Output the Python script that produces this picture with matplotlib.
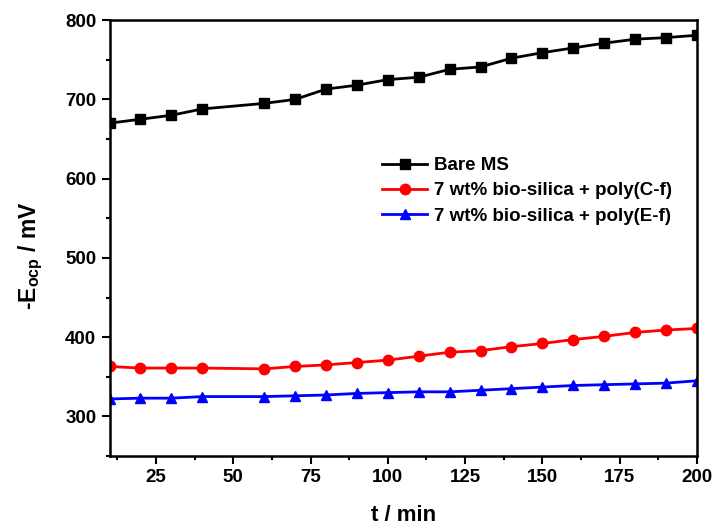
import matplotlib
matplotlib.use('Agg')
from matplotlib import pyplot as plt
from matplotlib.ticker import MultipleLocator

plt.rcParams['font.family'] = ['Liberation Sans', 'DejaVu Sans']
plt.rcParams['font.weight'] = 'bold'
plt.rcParams['mathtext.fontset'] = 'custom'
plt.rcParams['mathtext.rm'] = 'Liberation Sans:bold'
plt.rcParams['mathtext.bf'] = 'Liberation Sans:bold'

t = [10, 20, 30, 40, 60, 70, 80, 90, 100, 110, 120, 130, 140, 150, 160, 170, 180, 190, 200]
bare = [670, 675, 680, 688, 695, 700, 713, 718, 725, 728, 738, 741, 752, 759, 765, 771, 776, 778, 781]
cf = [363, 361, 361, 361, 360, 363, 365, 368, 371, 376, 381, 383, 388, 392, 397, 401, 406, 409, 411]
ef = [322, 323, 323, 325, 325, 326, 327, 329, 330, 331, 331, 333, 335, 337, 339, 340, 341, 342, 345]
labels = ['Bare MS', '7 wt% bio-silica + poly(C-f)', '7 wt% bio-silica + poly(E-f)']

fig = plt.figure(figsize=(7.13, 5.31), dpi=100)
ax = fig.add_axes([0.1536, 0.1412, 0.824, 0.8208])

ax.plot(t, bare, color='black', marker='s', markersize=6.5, linewidth=2, label=labels[0])
ax.plot(t, cf, color='#ff0000', marker='o', markersize=7.5, linewidth=2, label=labels[1])
ax.plot(t, ef, color='#0000ff', marker='^', markersize=7.5, linewidth=2, label=labels[2])

ax.set_xlim(10, 200)
ax.set_ylim(250, 800)
ax.set_xticks([25, 50, 75, 100, 125, 150, 175, 200])
ax.xaxis.set_minor_locator(MultipleLocator(12.5))
ax.set_yticks([300, 400, 500, 600, 700, 800])
ax.yaxis.set_minor_locator(MultipleLocator(50))
ax.tick_params(which='both', direction='out', width=1.5, top=False, right=False)
ax.tick_params(which='major', length=6, labelsize=13.5)
ax.tick_params(which='minor', length=3)
for lab in ax.get_xticklabels() + ax.get_yticklabels():
    lab.set_fontweight('bold')
for s in ax.spines.values():
    s.set_linewidth(1.8)

ax.set_xlabel('t / min', fontsize=16, fontweight='bold')
ax.xaxis.set_label_coords(0.5, -0.112)
ax.set_ylabel(r'-E$_{\mathrm{ocp}}$ / mV', fontsize=16.5, fontweight='bold')
ax.yaxis.set_label_coords(-0.11, 0.46)

leg = ax.legend(loc='upper left', bbox_to_anchor=(0.464, 0.686), frameon=False,
                prop={'weight': 'bold', 'size': 13.5}, handlelength=2.4,
                handletextpad=0.35, labelspacing=0.43, borderpad=0, borderaxespad=0)

fig.savefig('out.png', dpi=100)
